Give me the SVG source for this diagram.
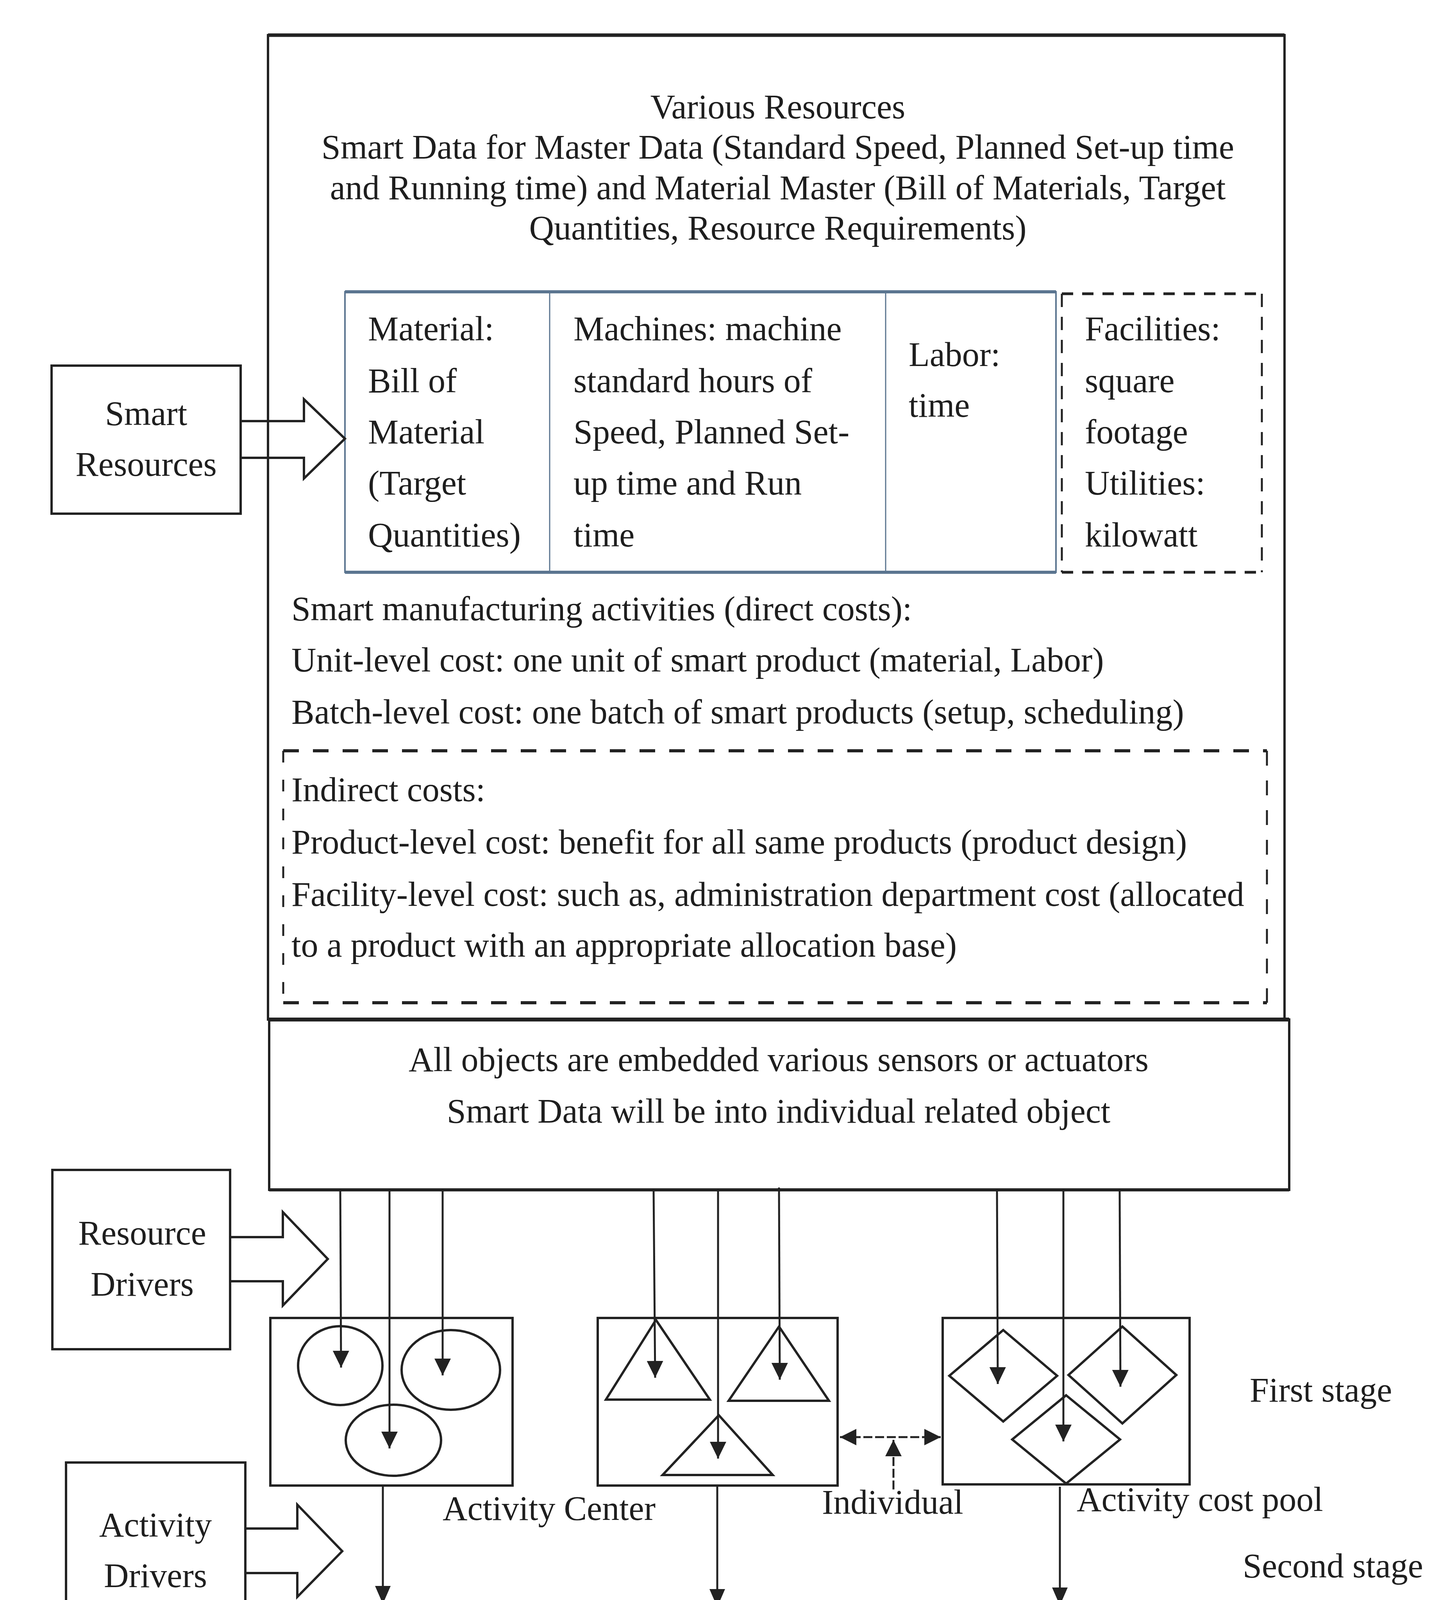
<svg xmlns="http://www.w3.org/2000/svg" width="3686" height="5210" viewBox="0 0 3686 5210">
<style>
.t{font-family:"Liberation Serif","Times New Roman",serif;font-size:88px;fill:#1e1e1e}
.m{text-anchor:middle}
.s{fill:none;stroke:#222;stroke-width:6}
.c{fill:none;stroke:#222;stroke-width:5}
.tb{fill:none;stroke:#5b7590}
</style>
<defs>
<marker id="ah1" markerUnits="userSpaceOnUse" viewBox="0 0 43 42" refX="43" refY="21" markerWidth="43" markerHeight="42" orient="auto"><path d="M0,0 L43,21 L0,42 z" fill="#222"/></marker>
<marker id="ah2" markerUnits="userSpaceOnUse" viewBox="0 0 46 40" refX="46" refY="20" markerWidth="46" markerHeight="40" orient="auto"><path d="M0,0 L46,20 L0,40 z" fill="#222"/></marker>
<marker id="ah3" markerUnits="userSpaceOnUse" viewBox="0 0 42 42" refX="42" refY="21" markerWidth="42" markerHeight="42" orient="auto-start-reverse"><path d="M0,0 L42,21 L0,42 z" fill="#222"/></marker>
</defs>
<rect width="3686" height="5210" fill="#ffffff"/>

<g id="resources-box">
<rect x="686" y="90" width="2602" height="2520" class="s" stroke-width="5"/>
<line x1="686" y1="90" x2="3288" y2="90" stroke="#222" stroke-width="9"/>
<text class="t m" x="1991" y="303">Various Resources</text>
<text class="t m" x="1991" y="406">Smart Data for Master Data (Standard Speed, Planned Set-up time</text>
<text class="t m" x="1991" y="510">and Running time) and Material Master (Bill of Materials, Target</text>
<text class="t m" x="1991" y="613">Quantities, Resource Requirements)</text>
</g>

<g id="resource-table">
<rect x="883" y="747" width="1820" height="718" class="tb" stroke-width="4"/>
<line x1="883" y1="747" x2="2703" y2="747" class="tb" stroke-width="8"/>
<line x1="883" y1="1465" x2="2703" y2="1465" class="tb" stroke-width="8"/>
<line x1="1407" y1="747" x2="1407" y2="1465" class="tb" stroke-width="3"/>
<line x1="2267" y1="747" x2="2267" y2="1465" class="tb" stroke-width="3"/>
<text class="t" x="942" y="871">Material:</text>
<text class="t" x="942" y="1004">Bill of</text>
<text class="t" x="942" y="1135">Material</text>
<text class="t" x="942" y="1266">(Target</text>
<text class="t" x="942" y="1399">Quantities)</text>
<text class="t" x="1468" y="871">Machines: machine</text>
<text class="t" x="1468" y="1004">standard hours of</text>
<text class="t" x="1468" y="1135">Speed, Planned Set-</text>
<text class="t" x="1468" y="1266">up time and Run</text>
<text class="t" x="1468" y="1399">time</text>
<text class="t" x="2326" y="937">Labor:</text>
<text class="t" x="2326" y="1067">time</text>
</g>

<g id="facilities-box">
<line x1="2718" y1="752" x2="3230" y2="752" stroke="#222" stroke-width="7" stroke-dasharray="29 23"/>
<line x1="2718" y1="1465" x2="3230" y2="1465" stroke="#222" stroke-width="7" stroke-dasharray="29 23"/>
<line x1="2718" y1="752" x2="2718" y2="1465" stroke="#222" stroke-width="5" stroke-dasharray="34 25"/>
<line x1="3230" y1="752" x2="3230" y2="1465" stroke="#222" stroke-width="5" stroke-dasharray="34 25"/>
<text class="t" x="2777" y="871">Facilities:</text>
<text class="t" x="2777" y="1004">square</text>
<text class="t" x="2777" y="1135">footage</text>
<text class="t" x="2777" y="1266">Utilities:</text>
<text class="t" x="2777" y="1399">kilowatt</text>
</g>

<g id="direct-costs">
<text class="t" x="746" y="1588">Smart manufacturing activities (direct costs):</text>
<text class="t" x="746" y="1719">Unit-level cost: one unit of smart product (material, Labor)</text>
<text class="t" x="746" y="1852">Batch-level cost: one batch of smart products (setup, scheduling)</text>
</g>

<g id="indirect-costs">
<line x1="725" y1="1922" x2="3243" y2="1922" stroke="#222" stroke-width="8" stroke-dasharray="40 36"/>
<line x1="725" y1="2567" x2="3243" y2="2567" stroke="#222" stroke-width="8" stroke-dasharray="40 36"/>
<line x1="725" y1="1922" x2="725" y2="2567" stroke="#222" stroke-width="5" stroke-dasharray="30 44"/>
<line x1="3243" y1="1922" x2="3243" y2="2567" stroke="#222" stroke-width="5" stroke-dasharray="38 38"/>
<text class="t" x="746" y="2051">Indirect costs:</text>
<text class="t" x="746" y="2185">Product-level cost: benefit for all same products (product design)</text>
<text class="t" x="746" y="2319">Facility-level cost: such as, administration department cost (allocated</text>
<text class="t" x="746" y="2449">to a product with an appropriate allocation base)</text>
</g>

<g id="objects-box">
<rect x="689" y="2610" width="2611" height="436" class="s" stroke-width="5"/>
<line x1="689" y1="2610" x2="3300" y2="2610" stroke="#222" stroke-width="10"/>
<line x1="689" y1="3046" x2="3300" y2="3046" stroke="#222" stroke-width="8"/>
<text class="t m" x="1993" y="2742">All objects are embedded various sensors or actuators</text>
<text class="t m" x="1993" y="2874">Smart Data will be into individual related object</text>
</g>

<g id="smart-resources">
<rect x="132" y="936" width="484" height="379" class="s"/>
<path d="M616,1078 H778 V1022 L883,1123 L778,1225 V1172 H616" class="s"/>
<text class="t m" x="374" y="1088">Smart</text>
<text class="t m" x="374" y="1218">Resources</text>
</g>

<g id="resource-drivers">
<rect x="134" y="2995" width="455" height="459" class="s"/>
<path d="M589,3167 H724 V3103 L839,3223 L724,3342 V3280 H589" class="s"/>
<text class="t m" x="364" y="3186">Resource</text>
<text class="t m" x="364" y="3317">Drivers</text>
</g>

<g id="activity-drivers">
<rect x="169" y="3744" width="459" height="452" class="s"/>
<path d="M628,3913 H761 V3852 L876,3971 L761,4088 V4027 H628" class="s"/>
<text class="t m" x="398" y="3933">Activity</text>
<text class="t m" x="398" y="4063">Drivers</text>
</g>

<g id="smart-products">
<rect x="98" y="4410" width="444" height="315" class="s"/>
<path d="M542,4529 H700 V4485 L781,4568 L700,4651 V4606 H542" class="s"/>
<text class="t m" x="320" y="4538">Smart</text>
<text class="t m" x="320" y="4670">Products</text>
</g>

<g id="activity-center-a">
<rect x="692" y="3374" width="620" height="429" class="s" stroke-width="7"/>
<ellipse cx="871" cy="3496" rx="108" ry="101" class="s" stroke-width="7"/>
<ellipse cx="1154" cy="3507" rx="126" ry="102" class="s" stroke-width="7"/>
<ellipse cx="1007" cy="3687" rx="122" ry="91" class="s" stroke-width="7"/>
</g>

<g id="activity-center-b">
<rect x="1530" y="3374" width="614" height="429" class="s" stroke-width="7"/>
<polygon points="1679,3379 1817,3583 1551,3583" class="s" stroke-width="7"/>
<polygon points="1994,3396 2122,3586 1865,3586" class="s" stroke-width="7"/>
<polygon points="1840,3623 1978,3776 1696,3776" class="s" stroke-width="7"/>
</g>

<g id="activity-cost-pool-c">
<rect x="2413" y="3374" width="632" height="426" class="s" stroke-width="7"/>
<polygon points="2568,3405 2706,3522 2568,3639 2430,3522" class="s" stroke-width="7"/>
<polygon points="2873,3396 3011,3520 2873,3644 2735,3520" class="s" stroke-width="7"/>
<polygon points="2729,3572 2867,3685 2729,3798 2591,3685" class="s" stroke-width="7"/>
</g>

<g id="labels">
<text class="t" x="1133" y="3891">Activity Center</text>
<text class="t" x="2104" y="3875">Individual</text>
<text class="t" x="2756" y="3868">Activity cost pool</text>
<text class="t" x="3199" y="3588">First stage</text>
<text class="t" x="3181" y="4038">Second stage</text>
</g>

<g id="product-a">
<rect x="688" y="4122" width="550" height="167" class="s" stroke-width="7"/>
<text class="t" x="801" y="4231">Product A</text>
<ellipse cx="966" cy="4421" rx="172" ry="125" class="s"/>
<ellipse cx="966" cy="4624" rx="172" ry="126" class="s"/>
<ellipse cx="971" cy="4814" rx="173" ry="126" class="s"/>
<text class="t m" x="962" y="4459">A1</text>
<text class="t m" x="964" y="4660">A2</text>
<text class="t m" x="969" y="4853">A3</text>
</g>

<g id="product-b">
<rect x="1560" y="4122" width="555" height="167" class="s" stroke-width="7"/>
<text class="t" x="1676" y="4231">Product B</text>
<polygon points="1855,4296 2085,4600 1627,4600" class="s"/>
<polygon points="1851,4436 2081,4774 1622,4774" class="s"/>
<polygon points="1820,4605 2050,4940 1591,4940" class="s"/>
<text class="t m" x="1851" y="4559">B1</text>
<text class="t m" x="1849" y="4714">B2</text>
<text class="t m" x="1838" y="4879">B3</text>
</g>

<g id="product-c">
<rect x="2437" y="4122" width="555" height="167" class="s" stroke-width="7"/>
<text class="t" x="2556" y="4231">Product C</text>
<polygon points="2721,4299 2953,4494 2721,4688 2491,4494" class="s"/>
<polygon points="2718,4542 2947,4738 2718,4927 2487,4738" class="s"/>
<polygon points="2724,4779 2955,4962 2724,5144 2494,4962" class="s"/>
<text class="t m" x="2718" y="4524">C1</text>
<text class="t m" x="2716" y="4764">C2</text>
<text class="t m" x="2721" y="4994">C3</text>
</g>

<g id="connectors">
<line x1="871" y1="3046" x2="873" y2="3501" class="c" marker-end="url(#ah1)"/>
<line x1="997" y1="3046" x2="997" y2="3708" class="c" marker-end="url(#ah1)"/>
<line x1="1133" y1="3046" x2="1133" y2="3521" class="c" marker-end="url(#ah1)"/>
<line x1="1673" y1="3046" x2="1677" y2="3527" class="c" marker-end="url(#ah1)"/>
<line x1="1838" y1="3046" x2="1838" y2="3734" class="c" marker-end="url(#ah1)"/>
<line x1="1994" y1="3040" x2="1996" y2="3532" class="c" marker-end="url(#ah1)"/>
<line x1="2552" y1="3046" x2="2554" y2="3543" class="c" marker-end="url(#ah1)"/>
<line x1="2722" y1="3046" x2="2722" y2="3690" class="c" marker-end="url(#ah1)"/>
<line x1="2866" y1="3046" x2="2868" y2="3550" class="c" marker-end="url(#ah1)"/>
<line x1="980" y1="3806" x2="980" y2="4106" class="c" stroke-width="6" marker-end="url(#ah2)"/>
<line x1="1836" y1="3806" x2="1836" y2="4114" class="c" stroke-width="6" marker-end="url(#ah2)"/>
<line x1="2713" y1="3806" x2="2713" y2="4110" class="c" stroke-width="6" marker-end="url(#ah2)"/>
<line x1="2150" y1="3679" x2="2408" y2="3679" class="c" stroke-width="7" stroke-dasharray="23 7" marker-start="url(#ah3)" marker-end="url(#ah3)"/>
<line x1="2287" y1="3813" x2="2287" y2="3686" class="c" stroke-width="7" stroke-dasharray="23 7" marker-end="url(#ah3)"/>
</g>
</svg>
